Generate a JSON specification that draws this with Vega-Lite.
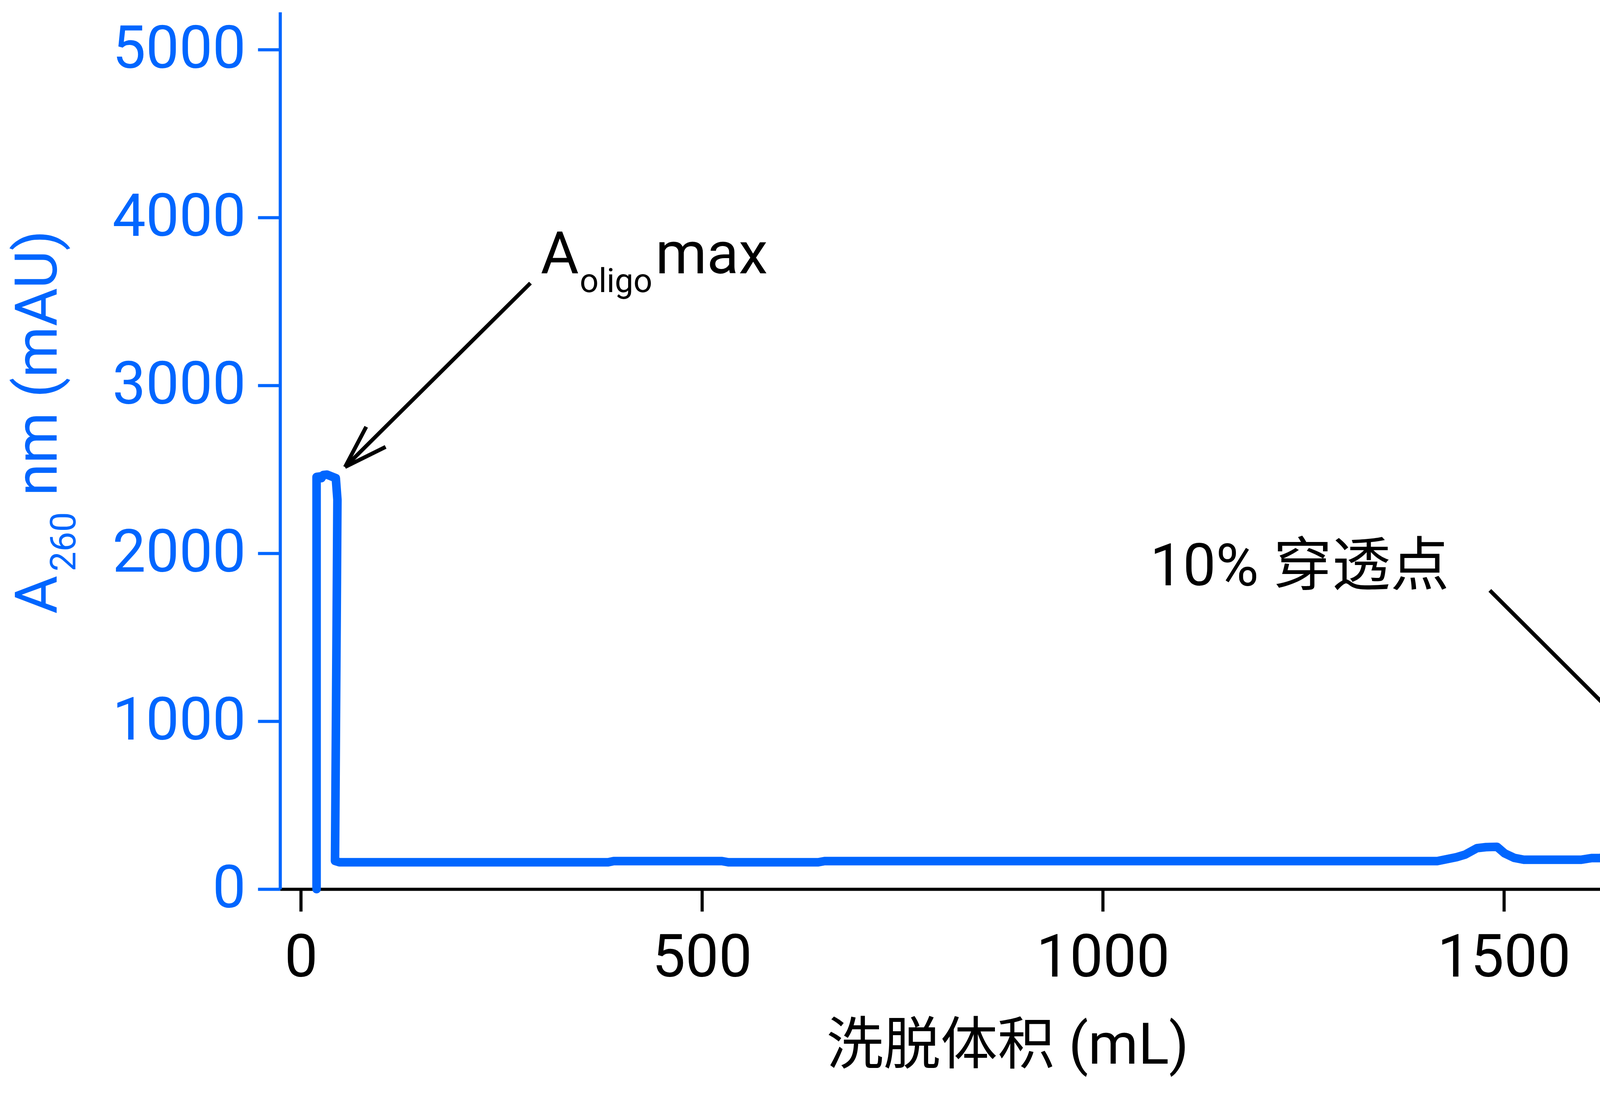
{
  "$schema": "https://vega.github.io/schema/vega-lite/v6.json",
  "width": 3763,
  "height": 2246,
  "autosize": {"type": "none"},
  "padding": {"left": 717, "top": 31, "right": 21, "bottom": 558},
  "background": "white",
  "config": {
    "view": {"stroke": null},
    "font": "Roboto, 'Noto Sans CJK SC', sans-serif"
  },
  "datasets": {
    "trace": [
      {"x": 19.5, "y": 0}, {"x": 19.5, "y": 2455}, {"x": 24, "y": 2458}, {"x": 25.5, "y": 2448},
      {"x": 28, "y": 2467}, {"x": 32.5, "y": 2469}, {"x": 43.5, "y": 2448}, {"x": 45.5, "y": 2320},
      {"x": 44.5, "y": 1575}, {"x": 42.5, "y": 168}, {"x": 48, "y": 160}, {"x": 60, "y": 160},
      {"x": 383, "y": 160}, {"x": 390, "y": 167}, {"x": 525, "y": 167}, {"x": 533, "y": 160},
      {"x": 645, "y": 160}, {"x": 653, "y": 167}, {"x": 1417, "y": 167}, {"x": 1441, "y": 190},
      {"x": 1452, "y": 206}, {"x": 1466.5, "y": 244}, {"x": 1477.6, "y": 250}, {"x": 1491.5, "y": 252},
      {"x": 1501, "y": 213}, {"x": 1513, "y": 186}, {"x": 1525, "y": 175}, {"x": 1596, "y": 175},
      {"x": 1610, "y": 185}, {"x": 1620, "y": 185}, {"x": 1632.7, "y": 202}, {"x": 1669, "y": 221},
      {"x": 1680, "y": 211}, {"x": 1690, "y": 190}, {"x": 1702.6, "y": 194}, {"x": 1711, "y": 241},
      {"x": 1715, "y": 295}, {"x": 1719, "y": 372}, {"x": 1723.5, "y": 496}, {"x": 1724, "y": 566},
      {"x": 1726, "y": 627}, {"x": 1734, "y": 722}, {"x": 1735.5, "y": 3500}, {"x": 1736.5, "y": 4730},
      {"x": 1739, "y": 4730}, {"x": 1739.6, "y": 4629}, {"x": 1741.2, "y": 4475}, {"x": 1741.2, "y": 4366},
      {"x": 1742.7, "y": 4342}, {"x": 1742.7, "y": 4180}, {"x": 1746, "y": 3504}, {"x": 1746, "y": 2061},
      {"x": 1748, "y": 1928}, {"x": 1748, "y": 1342}, {"x": 1749.5, "y": 1109}, {"x": 1750, "y": 1047},
      {"x": 1750, "y": 877}, {"x": 1752, "y": 807}, {"x": 1752, "y": 698}, {"x": 1754, "y": 644},
      {"x": 1754, "y": 590}, {"x": 1756, "y": 537}, {"x": 1756, "y": 446}, {"x": 1762, "y": 377},
      {"x": 1770, "y": 269}, {"x": 1773.5, "y": 144}, {"x": 1774.5, "y": 119}, {"x": 1786, "y": 124}
    ],
    "arrows": [
      {"x": 286.2, "y": 3609.8, "x2": 55.0, "y2": 2514.3},
      {"x": 55.0, "y": 2514.3, "x2": 81.4, "y2": 2753.9},
      {"x": 55.0, "y": 2514.3, "x2": 105.6, "y2": 2634.1},
      {"x": 1482.6, "y": 1779.3, "x2": 1712.3, "y2": 683.8},
      {"x": 1712.3, "y": 683.8, "x2": 1685.2, "y2": 923.4},
      {"x": 1712.3, "y": 683.8, "x2": 1661.9, "y2": 808.3}
    ],
    "notes": [
      {"x": 298.9, "y": 3668, "label": "A"},
      {"x": 442.1, "y": 3668, "label": "max"},
      {"x": 1058.8, "y": 1810, "label": "10% 穿透点"}
    ],
    "noteSub": [
      {"x": 347.6, "y": 3556, "label": "oligo"}
    ],
    "yTitle": [
      {"x": -304.7, "y": 1640, "label": "A"},
      {"x": -304.7, "y": 2342, "label": "nm (mAU)"}
    ],
    "yTitleSub": [
      {"x": -281.3, "y": 1893, "label": "260"}
    ]
  },
  "encoding": {
    "x": {
      "field": "x",
      "type": "quantitative",
      "scale": {"domain": [-26, 1807], "nice": false, "zero": false},
      "axis": {
        "values": [0, 500, 1000, 1500],
        "format": "d",
        "grid": false,
        "domainColor": "black",
        "domainWidth": 8,
        "tickColor": "black",
        "tickWidth": 8,
        "tickSize": 57,
        "labelColor": "black",
        "labelFontSize": 152,
        "labelBaseline": "alphabetic",
        "labelPadding": 166,
        "labelFlush": false,
        "labelLimit": 0,
        "labelOverlap": false,
        "title": "洗脱体积 (mL)",
        "titleColor": "black",
        "titleFontSize": 146,
        "titleFontWeight": "normal",
        "titleBaseline": "alphabetic",
        "titleAlign": "center",
        "titleLimit": 0,
        "titleX": 1862,
        "titleY": 446
      }
    },
    "y": {
      "field": "y",
      "type": "quantitative",
      "scale": {"domain": [0, 5224], "nice": false, "zero": false},
      "axis": {
        "values": [0, 1000, 2000, 3000, 4000, 5000],
        "format": "d",
        "grid": false,
        "domainColor": "#0066FF",
        "domainWidth": 8,
        "tickColor": "#0066FF",
        "tickWidth": 8,
        "tickSize": 57,
        "labelColor": "#0066FF",
        "labelFontSize": 152,
        "labelPadding": 31,
        "labelLimit": 0,
        "labelOverlap": false,
        "title": null
      }
    }
  },
  "layer": [
    {
      "data": {"name": "trace"},
      "mark": {"type": "line", "color": "#0066FF", "strokeWidth": 22, "strokeCap": "round", "strokeJoin": "round"},
      "encoding": {"order": {"value": null}}
    },
    {
      "data": {"name": "arrows"},
      "mark": {"type": "rule", "color": "black", "strokeWidth": 10},
      "encoding": {
        "x2": {"field": "x2"},
        "y2": {"field": "y2"}
      }
    },
    {
      "data": {"name": "notes"},
      "mark": {"type": "text", "fontSize": 150, "align": "left", "baseline": "alphabetic", "color": "black"},
      "encoding": {"text": {"field": "label"}}
    },
    {
      "data": {"name": "noteSub"},
      "mark": {"type": "text", "fontSize": 85, "align": "left", "baseline": "alphabetic", "color": "black"},
      "encoding": {"text": {"field": "label"}}
    },
    {
      "data": {"name": "yTitle"},
      "mark": {"type": "text", "fontSize": 150, "align": "left", "baseline": "alphabetic", "angle": 270, "color": "#0066FF"},
      "encoding": {"text": {"field": "label"}}
    },
    {
      "data": {"name": "yTitleSub"},
      "mark": {"type": "text", "fontSize": 90, "align": "left", "baseline": "alphabetic", "angle": 270, "color": "#0066FF"},
      "encoding": {"text": {"field": "label"}}
    }
  ]
}
